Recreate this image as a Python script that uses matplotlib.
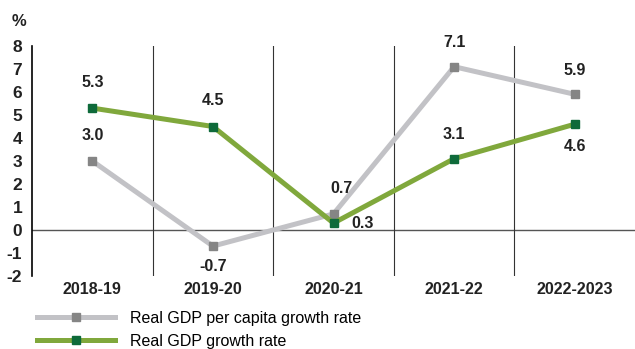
import matplotlib.pyplot as plt
from matplotlib.lines import Line2D

years = ['2018-19', '2019-20', '2020-21', '2021-22', '2022-2023']
per_capita = [3.0, -0.7, 0.7, 7.1, 5.9]
gdp_growth = [5.3, 4.5, 0.3, 3.1, 4.6]
yticks = [-2, -1, 0, 1, 2, 3, 4, 5, 6, 7, 8]

plt.rcParams['font.family'] = ['Liberation Sans', 'DejaVu Sans']

grey_line, grey_mark = '#c2c2c6', '#858585'
green_line, green_mark = '#80a83c', '#0e6a3a'
txt = '#222222'

fig = plt.figure(figsize=(6.35, 3.49), dpi=100)
ax = fig.add_axes([32 / 635, 73 / 349, 603 / 635, 230 / 349])

x = list(range(len(years)))
ax.plot(x, per_capita, color=grey_line, lw=3.6, marker='s', ms=6,
        mfc=grey_mark, mec=grey_mark, zorder=3)
ax.plot(x, gdp_growth, color=green_line, lw=3.6, marker='s', ms=6,
        mfc=green_mark, mec=green_mark, zorder=4)

ax.set_xlim(-0.5, 4.5)
ax.set_ylim(-2, 8)
ax.axhline(0, color='#555555', lw=1, zorder=1)
for v in [0.5, 1.5, 2.5, 3.5]:
    ax.axvline(v, color='#333333', lw=0.8, zorder=1)

for s in ['top', 'right', 'bottom']:
    ax.spines[s].set_visible(False)
ax.spines['left'].set_linewidth(1.2)

ax.set_yticks(yticks)
ax.set_yticklabels([str(t) for t in yticks], fontsize=12.5, fontweight='bold', color=txt)
ax.set_xticks(x)
ax.set_xticklabels(years, fontsize=11.5, fontweight='bold', color=txt)
ax.tick_params(axis='both', length=0)
ax.tick_params(axis='x', pad=4)
ax.tick_params(axis='y', pad=7)

fig.text(12 / 635, 1 - 22 / 349, '%', fontsize=12, fontweight='bold', color=txt, va='center')

lab = dict(fontsize=11.5, fontweight='bold', color=txt, ha='center')
# per capita labels
ax.annotate('3.0', (0, 3.0), xytext=(0, 13), textcoords='offset points', va='bottom', **lab)
ax.annotate('-0.7', (1, -0.7), xytext=(0, -9), textcoords='offset points', va='top', **lab)
ax.annotate('0.7', (2, 0.7), xytext=(6, 13), textcoords='offset points', va='bottom', **lab)
ax.annotate('7.1', (3, 7.1), xytext=(0, 12), textcoords='offset points', va='bottom', **lab)
ax.annotate('5.9', (4, 5.9), xytext=(0, 12), textcoords='offset points', va='bottom', **lab)
# gdp growth labels
ax.annotate('5.3', (0, 5.3), xytext=(0, 13), textcoords='offset points', va='bottom', **lab)
ax.annotate('4.5', (1, 4.5), xytext=(0, 13), textcoords='offset points', va='bottom', **lab)
ax.annotate('0.3', (2, 0.3), xytext=(21, 0), textcoords='offset points', va='center', **lab)
ax.annotate('3.1', (3, 3.1), xytext=(0, 12), textcoords='offset points', va='bottom', **lab)
ax.annotate('4.6', (4, 4.6), xytext=(0, -11), textcoords='offset points', va='top', **lab)

handles = [
    Line2D([], [], color=grey_line, lw=3.6, marker='s', ms=6, mfc=grey_mark, mec=grey_mark),
    Line2D([], [], color=green_line, lw=3.6, marker='s', ms=6, mfc=green_mark, mec=green_mark),
]
fig.legend(handles, ['Real GDP per capita growth rate', 'Real GDP growth rate'],
           loc='upper left', bbox_to_anchor=(37 / 635, 1 - 311 / 349), frameon=False,
           fontsize=11.5, handlelength=4.9, handletextpad=0.9, labelspacing=0.5,
           borderaxespad=0, borderpad=0)

fig.savefig('out.png', dpi=100)
